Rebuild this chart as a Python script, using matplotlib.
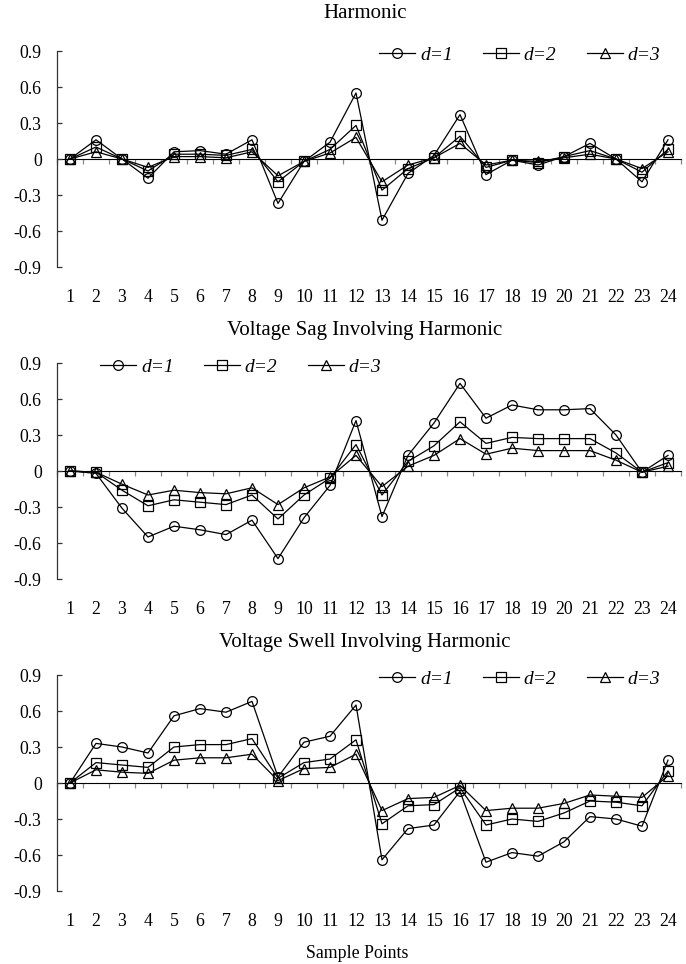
import numpy as np
import matplotlib
matplotlib.use("Agg")
import matplotlib.pyplot as plt

plt.rcParams['font.family'] = ['Liberation Serif', 'DejaVu Serif']
plt.rcParams['font.size'] = 12.8

samples = list(range(1, 25))
yticks = [-0.9, -0.6, -0.3, 0, 0.3, 0.6, 0.9]
ytick_labels = ['-0.9', '-0.6', '-0.3', '0', '0.3', '0.6', '0.9']
series_labels = ['d=1', 'd=2', 'd=3']
titles = ['Harmonic', 'Voltage Sag Involving Harmonic', 'Voltage Swell Involving Harmonic']
xlabel = 'Sample Points'

harm_d1 = [0, 0.16, 0, -0.16, 0.06, 0.07, 0.04, 0.16, -0.37, -0.02, 0.14, 0.55,
           -0.51, -0.12, 0.03, 0.37, -0.13, -0.01, -0.05, 0.02, 0.13, 0, -0.19, 0.16]
harm_d2 = [0, 0.10, 0, -0.10, 0.04, 0.04, 0.03, 0.08, -0.19, -0.02, 0.08, 0.28,
           -0.26, -0.08, 0.01, 0.19, -0.07, -0.01, -0.03, 0.02, 0.07, 0, -0.11, 0.08]
harm_d3 = [0, 0.06, 0, -0.07, 0.02, 0.02, 0.01, 0.06, -0.14, -0.02, 0.05, 0.18,
           -0.19, -0.05, 0.01, 0.13, -0.05, -0.01, -0.02, 0.01, 0.04, 0, -0.08, 0.06]

sag_d1 = [0, -0.02, -0.31, -0.55, -0.46, -0.49, -0.53, -0.41, -0.73, -0.39, -0.12, 0.42,
          -0.38, 0.13, 0.40, 0.73, 0.44, 0.55, 0.51, 0.51, 0.52, 0.30, -0.01, 0.13]
sag_d2 = [0, -0.01, -0.16, -0.29, -0.24, -0.26, -0.28, -0.20, -0.40, -0.20, -0.06, 0.22,
          -0.20, 0.08, 0.21, 0.41, 0.23, 0.28, 0.27, 0.27, 0.27, 0.15, -0.01, 0.07]
sag_d3 = [0, -0.01, -0.11, -0.20, -0.16, -0.18, -0.19, -0.14, -0.28, -0.14, -0.05, 0.13,
          -0.13, 0.04, 0.13, 0.27, 0.14, 0.19, 0.17, 0.17, 0.17, 0.09, -0.01, 0.04]

swell_d1 = [0, 0.33, 0.30, 0.25, 0.56, 0.62, 0.59, 0.68, 0.05, 0.34, 0.39, 0.65,
            -0.64, -0.38, -0.35, -0.07, -0.66, -0.58, -0.61, -0.49, -0.28, -0.30, -0.36, 0.19]
swell_d2 = [0, 0.17, 0.15, 0.13, 0.30, 0.32, 0.32, 0.37, 0.04, 0.17, 0.20, 0.36,
            -0.34, -0.19, -0.18, -0.04, -0.35, -0.30, -0.32, -0.25, -0.15, -0.16, -0.19, 0.10]
swell_d3 = [0, 0.11, 0.09, 0.08, 0.19, 0.21, 0.21, 0.24, 0.02, 0.12, 0.13, 0.24,
            -0.23, -0.13, -0.12, -0.02, -0.23, -0.21, -0.21, -0.17, -0.10, -0.11, -0.12, 0.06]

panels = [(harm_d1, harm_d2, harm_d3), (sag_d1, sag_d2, sag_d3), (swell_d1, swell_d2, swell_d3)]
markers = ['o', 's', '^']
marker_sizes = [7, 6.5, 7]

W, H = 686, 964
fig = plt.figure(figsize=(W / 100, H / 100), dpi=100)

ax_left = 57 / W
ax_width = (681 - 57) / W
tops = [51, 363, 675]
ax_h = 216
legend_x = [0.516, 0.069, 0.516]
title_y = [13, 331, 643]

for i, data in enumerate(panels):
    top = tops[i]
    ax = fig.add_axes([ax_left, 1 - (top + ax_h) / H, ax_width, ax_h / H])
    for vals, m, ms, lab in zip(data, markers, marker_sizes, series_labels):
        ax.plot(samples, vals, color='black', lw=0.9, marker=m, ms=ms,
                mfc='none', mec='black', mew=0.9, label=lab, clip_on=False, zorder=3)
    ax.set_xlim(0.5, 24.5)
    ax.set_ylim(-0.9, 0.9)
    for s in ['top', 'right', 'bottom']:
        ax.spines[s].set_visible(False)
    ax.spines['left'].set_color('#333333')
    ax.spines['left'].set_linewidth(0.9)
    ax.set_yticks(yticks)
    ax.set_yticklabels(ytick_labels)
    ax.tick_params(axis='y', direction='in', length=3.6, width=0.9, color='#333333', pad=11)
    ax.set_xticks(samples)
    ax.set_xticklabels([str(s) for s in samples])
    ax.tick_params(axis='x', length=0, pad=15.5)

    sec = ax.secondary_xaxis(0.5)
    sec.set_xticks(np.arange(0.5, 25, 1))
    sec.set_xticklabels([])
    sec.spines['bottom'].set_color('#888888')
    sec.spines['bottom'].set_linewidth(1.0)
    sec.tick_params(direction='in', length=3.6, width=0.9, color='#888888')

    ax.legend(loc='center left', bbox_to_anchor=(legend_x[i], 0.98), ncol=3,
              frameon=False, borderpad=0, borderaxespad=0, handlelength=1.85,
              handletextpad=0.26, columnspacing=1.55,
              prop={'family': 'Liberation Serif', 'style': 'italic', 'size': 14})
    fig.text(365 / W, 1 - title_y[i] / H, titles[i], ha='center', va='center', fontsize=15)

fig.text(357 / W, 1 - 953 / H, xlabel, ha='center', va='center', fontsize=12.8)

fig.savefig('out.png', dpi=100)
